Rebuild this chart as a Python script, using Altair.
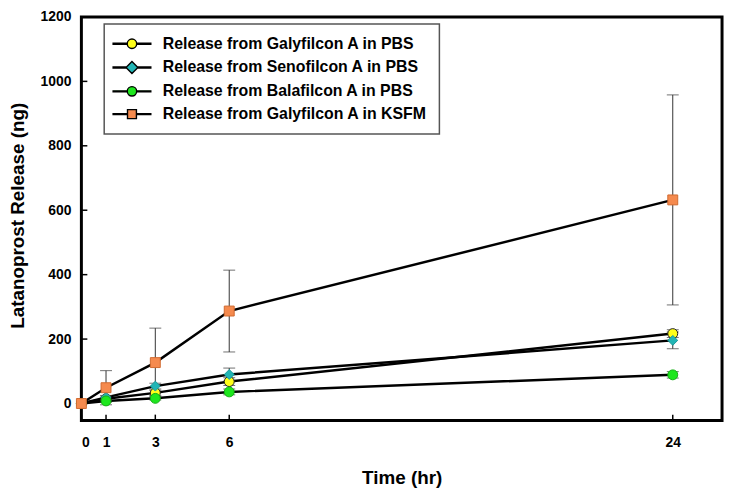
import altair as alt
import pandas as pd

# ---- data ----
times = [0, 1, 3, 6, 24]
series_names = [
    "Release from Galyfilcon A in PBS",
    "Release from Senofilcon A in PBS",
    "Release from Balafilcon A in PBS",
    "Release from Galyfilcon A in KSFM",
]
galy_pbs = [0, 15, 33, 68, 217]
galy_pbs_err = [0, 5, 8, 12, 12]
seno_pbs = [0, 19, 54, 90, 196]
seno_pbs_err = [0, 6, 9, 20, 26]
bala_pbs = [0, 8, 16, 36, 89]
bala_pbs_err = [0, 4, 5, 9, 10]
galy_ksfm = [0, 49, 127, 287, 632]
galy_ksfm_err = [0, 53, 107, 127, 326]

x_ticks = [0, 1, 3, 6, 24]
y_ticks = [0, 200, 400, 600, 800, 1000, 1200]

fill_colors = ["#ffff1a", "#22b5b5", "#1ee61e", "#f58a4e"]
stroke_colors = ["#202020", "#1a9a9a", "#12b012", "#d06a30"]
legend_strokes = ["#000000", "#000000", "#000000", "#000000"]
plot_shapes = ["circle", "diamond", "circle", "square"]

# legend symbols: line stub + marker (custom paths)
def stub(a):
    return (f"M-3.8,-0.1H{-a}V0.1H-3.8Z M{a},-0.1H3.8V0.1H{a}Z ")

legend_paths = [
    stub(0.95) + "M0.95,0A0.95,0.95,0,1,1,-0.95,0A0.95,0.95,0,1,1,0.95,0Z",
    stub(1.1) + "M0,-1.2L1.2,0L0,1.2L-1.2,0Z",
    stub(0.95) + "M0.95,0A0.95,0.95,0,1,1,-0.95,0A0.95,0.95,0,1,1,0.95,0Z",
    stub(0.9) + "M-0.9,-0.9H0.9V0.9H-0.9Z",
]

vals = [galy_pbs, seno_pbs, bala_pbs, galy_ksfm]
errs = [galy_pbs_err, seno_pbs_err, bala_pbs_err, galy_ksfm_err]
rows = []
for name, v, e in zip(series_names, vals, errs):
    for t, y, er in zip(times, v, e):
        rows.append({"series": name, "legend": name, "time": t, "value": y,
                     "lo": y - er, "hi": y + er, "err": er})
df = pd.DataFrame(rows)
xt_df = pd.DataFrame({"time": x_ticks})
yt_df = pd.DataFrame({"value": y_ticks})

FONT = "Liberation Sans"
H = 407

x_enc = alt.X("time:Q", scale=alt.Scale(domain=[0, 26], nice=False, zero=False),
              axis=alt.Axis(values=x_ticks, title="Time (hr)", ticks=False,
                            labelPadding=15, titleY=57, titleBaseline="middle"))
y_enc = alt.Y("value:Q", scale=alt.Scale(domain=[-53, 1200], nice=False, zero=False),
              axis=alt.Axis(values=y_ticks, title="Latanoprost Release (ng)", format="d",
                            ticks=False, labelPadding=10.5,
                            titleX=-64, titleY=200, titleBaseline="middle"))

base = alt.Chart(df)

lines = base.mark_line(color="black", strokeWidth=2.5).encode(
    x=x_enc, y=y_enc, detail="series:N", order="time:Q")

# inward tick marks
y_tick_marks = alt.Chart(yt_df).mark_rule(color="black", strokeWidth=1.5).encode(
    y="value:Q", x=alt.value(0), x2=alt.value(6))
x_tick_marks = alt.Chart(xt_df).mark_rule(color="black", strokeWidth=1.5).encode(
    x="time:Q", y=alt.value(H), y2=alt.value(H - 6))

err_df = base.transform_filter("datum.err > 0")
err_rule = err_df.mark_rule(color="#333333", strokeWidth=1).encode(
    x="time:Q", y="lo:Q", y2="hi:Q")
cap_hi = err_df.mark_tick(color="#333333", thickness=1, size=12, orient="horizontal").encode(
    x="time:Q", y="hi:Q")
cap_lo = err_df.mark_tick(color="#333333", thickness=1, size=12, orient="horizontal").encode(
    x="time:Q", y="lo:Q")

markers = base.mark_point(filled=True, size=100, opacity=1, strokeWidth=1).encode(
    x="time:Q", y="value:Q",
    shape=alt.Shape("series:N", scale=alt.Scale(domain=series_names, range=plot_shapes), legend=None),
    fill=alt.Fill("series:N", scale=alt.Scale(domain=series_names, range=fill_colors), legend=None),
    stroke=alt.Stroke("series:N", scale=alt.Scale(domain=series_names, range=stroke_colors), legend=None),
)

leg = alt.Legend(title=None, orient="none", legendX=23, legendY=7,
                 symbolStrokeColor="black", symbolStrokeWidth=1.4)
legend_layer = base.transform_filter("false").mark_point(
    filled=True, size=100, opacity=1, strokeWidth=1.4).encode(
    x="time:Q", y="value:Q",
    shape=alt.Shape("legend:N", scale=alt.Scale(domain=series_names, range=legend_paths), legend=leg),
    fill=alt.Fill("legend:N", scale=alt.Scale(domain=series_names, range=fill_colors), legend=leg),
    stroke=alt.Stroke("legend:N", scale=alt.Scale(domain=series_names, range=legend_strokes), legend=leg),
)

chart = alt.layer(lines, y_tick_marks, x_tick_marks, err_rule, cap_hi, cap_lo,
                  markers, legend_layer).resolve_scale(
    shape="independent", fill="independent", stroke="independent"
).properties(
    width=646, height=H,
    autosize=alt.AutoSizeParams(type="none"),
    padding={"left": 74, "top": 7, "right": 5, "bottom": 70},
).configure_view(
    stroke="black", strokeWidth=3
).configure_axis(
    grid=False, domain=False,
    labelFont=FONT, labelFontSize=14, labelFontWeight="bold", labelColor="black",
    titleFont=FONT, titleFontSize=19, titleFontWeight="bold", titleColor="black",
).configure_legend(
    labelFont=FONT, labelFontSize=16, labelFontWeight="bold", labelColor="black",
    labelLimit=400, padding=12, rowPadding=7,
    strokeColor="#555555", strokeWidth=1.5, fillColor="white",
    symbolSize=100, symbolStrokeWidth=1.4, symbolStrokeColor="black",
    symbolOffset=8, labelOffset=23,
)

chart.save("out.html", embed_options={"renderer": "svg", "actions": False})
